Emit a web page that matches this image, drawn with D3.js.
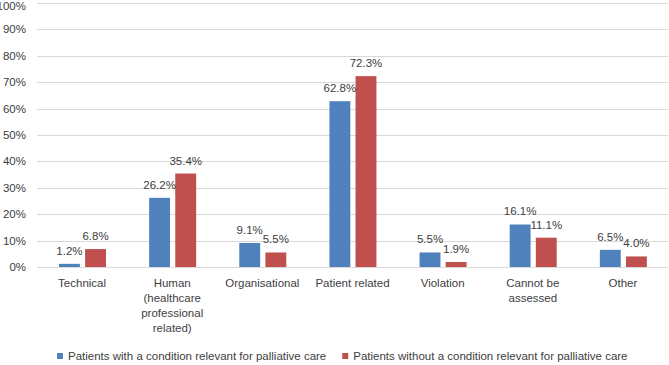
<!DOCTYPE html>
<html>
<head>
<meta charset="utf-8">
<script src="https://cdn.jsdelivr.net/npm/d3@7"></script>
<style>
  body { margin: 0; background: #fff; }
  text { font-family: "Liberation Sans", Arial, sans-serif; fill: #404040; }
</style>
</head>
<body>
<div id="chart"></div>
<script>
const categories = ["Technical", "Human", "Organisational", "Patient related", "Violation", "Cannot be assessed", "Other"];
const categoryLines = [["Technical"], ["Human", "(healthcare", "professional", "related)"], ["Organisational"],
    ["Patient related"], ["Violation"], ["Cannot be", "assessed"], ["Other"]];
const seriesNames = ["Patients with a condition relevant for palliative care",
    "Patients without a condition relevant for palliative care"];
const withPalliative = [1.2, 26.2, 9.1, 62.8, 5.5, 16.1, 6.5];
const withoutPalliative = [6.8, 35.4, 5.5, 72.3, 1.9, 11.1, 4.0];
const yTicks = [0, 10, 20, 30, 40, 50, 60, 70, 80, 90, 100];
const colors = ["#4f81bd", "#c0504d"];

const width = 669, height = 365;
const fontSize = "11.5px";
const svg = d3.select("#chart").append("svg")
    .attr("width", width).attr("height", height);

const x = d3.scaleBand().domain(categories).range([37, 668]);
const x1 = d3.scaleBand().domain([0, 1]).range([22, 69]).paddingInner(0.2);
const y = d3.scaleLinear().domain([0, 100]).range([267, 3]);

// gridlines
svg.append("g").selectAll("line").data(yTicks).enter().append("line")
    .attr("x1", 37).attr("x2", 668)
    .attr("y1", d => Math.round(y(d)) + 0.5).attr("y2", d => Math.round(y(d)) + 0.5)
    .attr("stroke", "#d9d9d9").attr("stroke-width", 1);

// y labels
svg.append("g").selectAll("text").data(yTicks).enter().append("text")
    .attr("x", 26).attr("y", d => Math.max(y(d) + 4, 10))
    .attr("text-anchor", "end")
    .style("font-size", fontSize)
    .text(d => d + "%");

const rows = categories.map((c, i) => ({cat: c, vals: [withPalliative[i], withoutPalliative[i]]}));

const groups = svg.append("g").selectAll("g").data(rows).enter().append("g")
    .attr("transform", d => `translate(${x(d.cat)},0)`);

groups.selectAll("rect").data(d => d.vals).enter().append("rect")
    .attr("x", (d, i) => x1(i))
    .attr("y", d => y(d))
    .attr("width", x1.bandwidth())
    .attr("height", d => y(0) - y(d))
    .attr("fill", (d, i) => colors[i]);

groups.selectAll("text.val").data(d => d.vals).enter().append("text")
    .attr("class", "val")
    .attr("x", (d, i) => x1(i) + x1.bandwidth() / 2)
    .attr("y", d => y(d) - 9)
    .attr("text-anchor", "middle")
    .style("font-size", fontSize)
    .text(d => d.toFixed(1) + "%");

// x labels
categories.forEach((c, i) => {
    const t = svg.append("text")
        .attr("x", x(c) + x.bandwidth() / 2)
        .attr("y", 287)
        .attr("text-anchor", "middle")
        .style("font-size", fontSize);
    categoryLines[i].forEach((line, j) => {
        t.append("tspan")
            .attr("x", x(c) + x.bandwidth() / 2)
            .attr("dy", j === 0 ? 0 : 15)
            .text(line);
    });
});

// legend
const legend = svg.append("g");
let lx = 57;
seriesNames.forEach((name, i) => {
    legend.append("rect")
        .attr("x", lx).attr("y", 353).attr("width", 6).attr("height", 6)
        .attr("fill", colors[i]);
    const t = legend.append("text")
        .attr("x", lx + 11).attr("y", 360)
        .style("font-size", fontSize)
        .text(name);
    lx += 11 + t.node().getComputedTextLength() + 16;
});
</script>
</body>
</html>
